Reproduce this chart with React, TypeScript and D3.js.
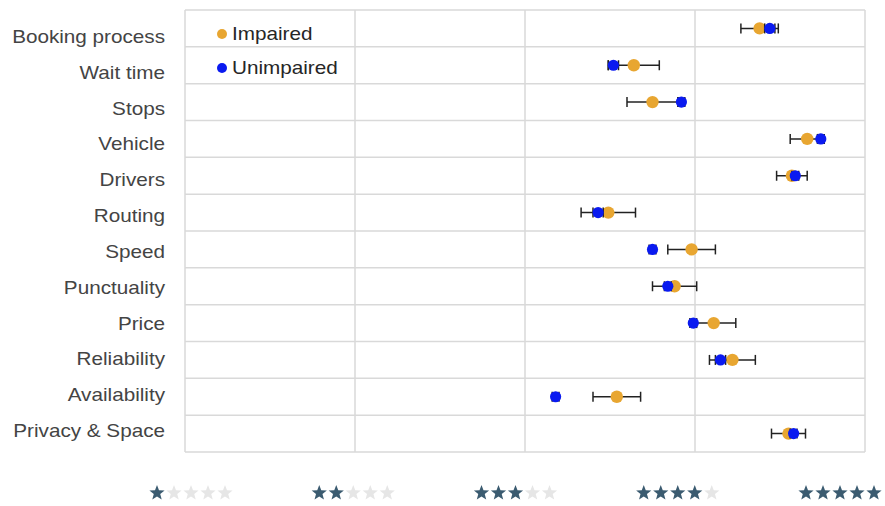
import React from "react";
import * as d3 from "d3";

const categories = [
  "Booking process", "Wait time", "Stops", "Vehicle", "Drivers", "Routing",
  "Speed", "Punctuality", "Price", "Reliability", "Availability", "Privacy & Space",
];
const impaired = [4.38, 3.64, 3.75, 4.66, 4.57, 3.49, 3.98, 3.88, 4.11, 4.22, 3.54, 4.55];
const impairedErr = [0.11, 0.15, 0.15, 0.10, 0.09, 0.16, 0.14, 0.13, 0.13, 0.135, 0.14, 0.10];
const unimpaired = [4.44, 3.52, 3.92, 4.74, 4.59, 3.43, 3.75, 3.84, 3.99, 4.15, 3.18, 4.58];
const unimpairedErr = [0.03, 0.03, 0.02, 0.02, 0.02, 0.03, 0.02, 0.02, 0.02, 0.03, 0.02, 0.02];
const starTicks = [1, 2, 3, 4, 5];
const legendItems = ["Impaired", "Unimpaired"];

const GOLD = "#E8A631";
const BLUE = "#0A1AF0";
const GRID = "#d9d9d9";

function starPath(cx: number, cy: number, R: number, r: number) {
  const pts: string[] = [];
  for (let i = 0; i < 10; i++) {
    const a = -Math.PI / 2 + (i * Math.PI) / 5;
    const rad = i % 2 === 0 ? R : r;
    pts.push(`${(cx + rad * Math.cos(a)).toFixed(2)},${(cy + rad * Math.sin(a)).toFixed(2)}`);
  }
  return "M" + pts.join("L") + "Z";
}

export default function App() {
  const W = 885, H = 506;
  const left = 185, right = 865, top = 10, bottom = 452;
  const x = d3.scaleLinear().domain([1, 5]).range([left, right]);
  const y = d3.scaleBand().domain(categories).range([top, bottom]);
  const labelY = d3.scalePoint<string>().domain(categories).range([37, 431]);
  const starX = d3.scalePoint<number>().domain(starTicks).range([191, 840]);

  const rowLines = d3.range(categories.length + 1).map((i) => top + i * y.step());
  const capH = 5;
  const sx = 1.15;

  return (
    <svg width={W} height={H} style={{ position: "absolute", left: 0, top: 0, fontFamily: "Liberation Sans, Arial, sans-serif" }}>
      <rect x={0} y={0} width={W} height={H} fill="#fff" />
      {rowLines.map((ly, i) => (
        <line key={"h" + i} x1={left} x2={right} y1={ly} y2={ly} stroke={GRID} strokeWidth={1.5} />
      ))}
      {x.ticks(4).map((t) => (
        <line key={"v" + t} x1={x(t)} x2={x(t)} y1={top} y2={bottom} stroke={GRID} strokeWidth={1.5} />
      ))}
      <g transform={`translate(165,0) scale(${sx},1)`}>
        {categories.map((c) => (
          <text key={c} x={0} y={(labelY(c) as number) + 6} textAnchor="end" fontSize={18} fill="#444">
            {c}
          </text>
        ))}
      </g>
      {categories.map((c, i) => {
        const cy = (y(c) as number) + y.bandwidth() / 2;
        const lo = x(impaired[i] - impairedErr[i]);
        const hi = x(impaired[i] + impairedErr[i]);
        const ulo = x(unimpaired[i] - unimpairedErr[i]);
        const uhi = x(unimpaired[i] + unimpairedErr[i]);
        return (
          <g key={"m" + c}>
            <g stroke="#222" strokeWidth={1.5}>
              <line x1={lo} x2={hi} y1={cy} y2={cy} />
              <line x1={lo} x2={lo} y1={cy - capH} y2={cy + capH} />
              <line x1={hi} x2={hi} y1={cy - capH} y2={cy + capH} />
            </g>
            <circle cx={x(impaired[i])} cy={cy} r={6.2} fill={GOLD} />
            <g stroke="#222" strokeWidth={1.5}>
              <line x1={ulo} x2={uhi} y1={cy} y2={cy} />
              <line x1={ulo} x2={ulo} y1={cy - capH} y2={cy + capH} />
              <line x1={uhi} x2={uhi} y1={cy - capH} y2={cy + capH} />
            </g>
            <circle cx={x(unimpaired[i])} cy={cy} r={5.6} fill={BLUE} />
          </g>
        );
      })}
      {legendItems.map((l, i) => (
        <g key={l}>
          <circle cx={222} cy={34 + i * 34} r={5} fill={i === 0 ? GOLD : BLUE} />
          <text transform={`translate(232,${40 + i * 34}) scale(${sx},1)`} fontSize={18} fill="#262626">{l}</text>
        </g>
      ))}
      {starTicks.map((n) => (
        <g key={"s" + n}>
          {d3.range(5).map((k) => (
            <path
              key={k}
              d={starPath((starX(n) as number) + (k - 2) * 17, 493, 8, 3.4)}
              fill={k < n ? "#3b5b70" : "#e6e6e6"}
            />
          ))}
        </g>
      ))}
    </svg>
  );
}
